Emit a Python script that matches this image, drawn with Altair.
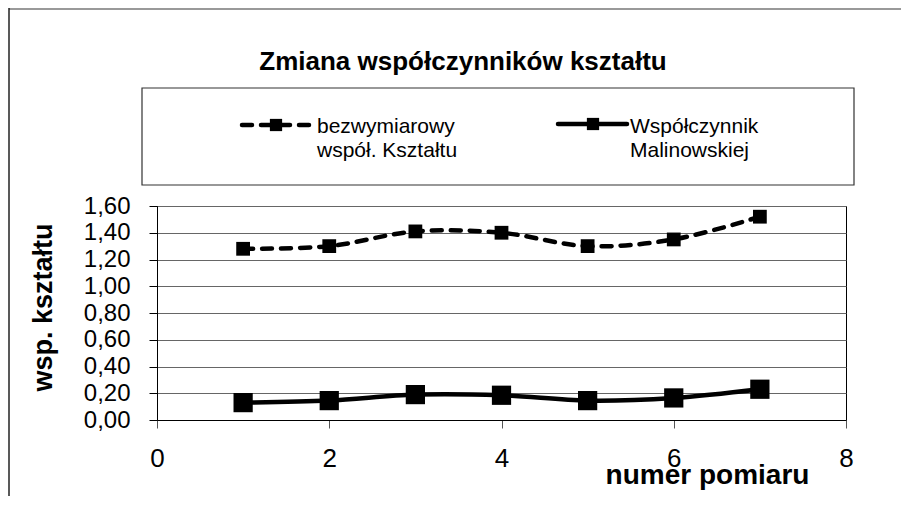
import altair as alt
import pandas as pd

# ---- data ----
pomiar = [1, 2, 3, 4, 5, 6, 7]
bezwymiarowy = [1.28, 1.30, 1.41, 1.40, 1.30, 1.35, 1.52]
malinowskiej = [0.13, 0.145, 0.19, 0.185, 0.145, 0.165, 0.23]
series_names = ["bezwymiarowy\nwspół. Kształtu", "Współczynnik\nMalinowskiej"]
x_ticks = [0, 2, 4, 6, 8]
y_ticks = [0.0, 0.2, 0.4, 0.6, 0.8, 1.0, 1.2, 1.4, 1.6]
title_text = "Zmiana współczynników kształtu"
x_title = "numer pomiaru"
y_title = "wsp. kształtu"

FONT = "Liberation Sans"

df1 = pd.DataFrame({"x": pomiar, "y": bezwymiarowy})
df2 = pd.DataFrame({"x": pomiar, "y": malinowskiej})
one = pd.DataFrame({"k": [0]})

xs = alt.Scale(domain=[0, 8], nice=False)
ys = alt.Scale(domain=[0, 1.6], nice=False)

x_enc = alt.X(
    "x:Q", scale=xs,
    axis=alt.Axis(
        values=x_ticks, grid=False, title=x_title, format="d",
        labelOverlap=False,
        domainColor="#000", tickColor="#555", tickSize=8,
        labelFontSize=26, labelFont=FONT, labelColor="#000", labelPadding=17,
        titleFont=FONT, titleFontSize=28, titleFontWeight="bold", titleColor="#000",
        titleX=550, titleY=63, titleBaseline="alphabetic", titleAlign="center",
        titleAnchor="start",
    ),
)
y_enc = alt.Y(
    "y:Q", scale=ys,
    axis=alt.Axis(
        values=y_ticks, grid=True, gridColor="#666", gridWidth=1,
        labelOverlap=False,
        domainColor="#000", tickColor="#000", tickSize=8,
        labelExpr="replace(format(datum.value, '.2f'), '.', ',')",
        labelFontSize=24, labelFont=FONT, labelColor="#000", labelPadding=19,
        title=y_title, titleFont=FONT, titleFontSize=27, titleFontWeight="bold",
        titleColor="#000", titleX=-114, titleY=101, titleAngle=-90,
        titleBaseline="middle", titleAlign="center", titleAnchor="start",
    ),
)

line1 = alt.Chart(df1).mark_line(
    color="#000", strokeWidth=4.5, strokeDash=[10, 9], strokeCap="round",
    interpolate="catmull-rom",
).encode(x=x_enc, y=y_enc)
pts1 = alt.Chart(df1).mark_square(color="#000", size=190, opacity=1).encode(
    x=x_enc, y=y_enc)

line2 = alt.Chart(df2).mark_line(
    color="#000", strokeWidth=4.5, interpolate="catmull-rom",
).encode(x=x_enc, y=y_enc)
pts2 = alt.Chart(df2).mark_square(color="#000", size=370, opacity=1).encode(
    x=x_enc, y=y_enc)

# ---- decorations (frame, title, legend box) ----
frame_top = alt.Chart(one).mark_rule(color="#777", strokeWidth=1.5).encode(
    x=alt.value(-148), x2=alt.value(760), y=alt.value(-197))
frame_left = alt.Chart(one).mark_rule(color="#222", strokeWidth=1.5).encode(
    x=alt.value(-148), y=alt.value(-198), y2=alt.value(300))

title = alt.Chart(one).mark_text(
    text=title_text, font=FONT, fontSize=26, fontWeight="bold",
    align="center", baseline="alphabetic", color="#000",
).encode(x=alt.value(306), y=alt.value(-136))

legend_box = alt.Chart(one).mark_rect(
    filled=False, stroke="#333", strokeWidth=1.2,
).encode(x=alt.value(-15), x2=alt.value(697), y=alt.value(-118), y2=alt.value(-21))

leg_line1 = alt.Chart(one).mark_rule(
    color="#000", strokeWidth=4.5, strokeDash=[10, 9], strokeCap="round",
).encode(x=alt.value(85), x2=alt.value(155), y=alt.value(-81))
leg_sq1 = alt.Chart(one).mark_square(color="#000", size=150, opacity=1).encode(
    x=alt.value(119), y=alt.value(-81))
leg_line2 = alt.Chart(one).mark_rule(
    color="#000", strokeWidth=4.5, strokeCap="round",
).encode(x=alt.value(401), x2=alt.value(470), y=alt.value(-82))
leg_sq2 = alt.Chart(one).mark_square(color="#000", size=150, opacity=1).encode(
    x=alt.value(436), y=alt.value(-82))

leg_txt1 = alt.Chart(one).mark_text(
    text=series_names[0], lineBreak="\n", lineHeight=24, font=FONT, fontSize=21,
    align="left", baseline="alphabetic", color="#000",
).encode(x=alt.value(160), y=alt.value(-73))
leg_txt2 = alt.Chart(one).mark_text(
    text=series_names[1], lineBreak="\n", lineHeight=24, font=FONT, fontSize=21,
    align="left", baseline="alphabetic", color="#000",
).encode(x=alt.value(473), y=alt.value(-73))

chart = alt.layer(
    line1, line2, pts1, pts2,
    frame_top, frame_left, title, legend_box,
    leg_line1, leg_sq1, leg_line2, leg_sq2, leg_txt1, leg_txt2,
).properties(
    width=689, height=214,
    autosize=alt.AutoSizeParams(type="none"),
    padding={"left": 149, "top": 198, "right": 55, "bottom": 76},
    background="#ffffff",
).configure_view(stroke="#000", strokeWidth=1).configure_axis(
    labelOverlap=False, labelBound=False, labelFlush=False
)

chart.save("out.html", embed_options={"renderer": "svg", "actions": False})
